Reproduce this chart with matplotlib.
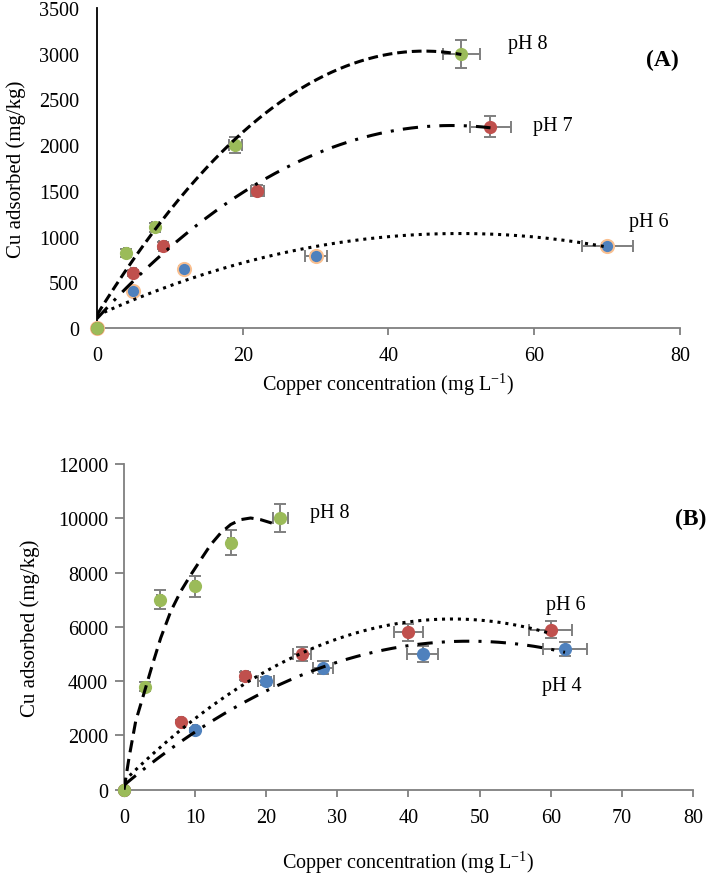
import matplotlib
matplotlib.use("Agg")
import matplotlib.pyplot as plt
import numpy as np

plt.rcParams["font.family"] = ["Liberation Serif", "DejaVu Serif"]
plt.rcParams["mathtext.fontset"] = "custom"
plt.rcParams["mathtext.rm"] = "Liberation Serif"

green = "#9BBB59"
red = "#C0504D"
blue = "#4F81BD"
orange = "#FAC090"
grey = "#7F7F7F"

# Panel A
a_ph8_x = [0, 4, 8, 19, 50]
a_ph8_y = [0, 820, 1100, 2000, 3000]
a_ph8_xerr = [0, 0.3, 0.5, 0.9, 2.5]
a_ph8_yerr = [0, 40, 50, 90, 155]

a_ph7_x = [0, 5, 9, 22, 54]
a_ph7_y = [0, 600, 900, 1500, 2200]
a_ph7_xerr = [0, 0.3, 0.5, 0.9, 2.8]
a_ph7_yerr = [0, 30, 40, 60, 115]

a_ph6_x = [0, 5, 12, 30, 70]
a_ph6_y = [0, 400, 650, 790, 900]
a_ph6_xerr = [0, 0.3, 0.4, 1.5, 3.5]
a_ph6_yerr = [0, 20, 30, 30, 30]

# Panel B
b_ph8_x = [0, 3, 5, 10, 15, 22]
b_ph8_y = [0, 3800, 7000, 7500, 9100, 10000]
b_ph8_xerr = [0, 0.3, 0.3, 0.3, 0.4, 1.05]
b_ph8_yerr = [0, 180, 340, 390, 460, 510]

# pH 8 trend line in (B)
b_ph8_trend_x = [0, 0.7, 1.64, 2.82, 4.0, 5.16, 6.57, 7.98, 9.4, 10.8,
                 12.2, 13.6, 15.0, 16.4, 17.8, 19.2, 20.7, 21.3]
b_ph8_trend_y = [0, 1170, 2520, 3560, 4610, 5590, 6570, 7310, 7920, 8480,
                 9030, 9460, 9770, 9950, 10010, 9950, 9830, 9760]

b_ph6_x = [0, 8, 17, 25, 40, 60]
b_ph6_y = [0, 2500, 4200, 5000, 5800, 5900]
b_ph6_xerr = [0, 0.3, 0.5, 1.27, 2.1, 3.05]
b_ph6_yerr = [0, 60, 150, 245, 310, 310]

b_ph4_x = [0, 10, 20, 28, 42, 62]
b_ph4_y = [0, 2200, 4000, 4500, 5000, 5200]
b_ph4_xerr = [0, 0.3, 1.1, 1.4, 2.2, 3.1]
b_ph4_yerr = [0, 60, 150, 245, 280, 260]

fig = plt.figure(figsize=(7.09, 8.78), dpi=100)
axA = fig.add_axes([0.1368, 0.6253, 0.8222, 0.3644])
axB = fig.add_axes([0.1749, 0.0994, 0.8025, 0.3710])


def points(ax, x, y, xerr, yerr, color, edge):
    ax.errorbar(x, y, xerr=xerr, yerr=yerr, fmt="none", ecolor=grey,
                elinewidth=1.4, capsize=4, capthick=1.4, zorder=2)
    ax.plot(x, y, "o", color=color, markersize=9.5, markeredgecolor=edge,
            markeredgewidth=1.4 if edge != color else 0, zorder=3, clip_on=False)


def trend(ax, x, y, style):
    coef = np.polyfit(x, y, 2)
    xs = np.linspace(0, max(x), 200)
    ax.plot(xs, np.polyval(coef, xs), color="black", zorder=4, **style)


dash = dict(linestyle=(0, (3.2, 1.6)), linewidth=2.2)
dashdot = dict(linestyle=(0, (5, 3, 1, 3)), linewidth=2.2)
dotted = dict(linestyle=(0, (1, 1.6)), linewidth=2.2)

points(axA, a_ph6_x, a_ph6_y, a_ph6_xerr, a_ph6_yerr, blue, orange)
points(axA, a_ph7_x, a_ph7_y, a_ph7_xerr, a_ph7_yerr, red, red)
points(axA, a_ph8_x, a_ph8_y, a_ph8_xerr, a_ph8_yerr, green, green)
trend(axA, a_ph6_x, a_ph6_y, dotted)
trend(axA, a_ph7_x, a_ph7_y, dashdot)
trend(axA, a_ph8_x, a_ph8_y, dash)

points(axB, b_ph4_x, b_ph4_y, b_ph4_xerr, b_ph4_yerr, blue, blue)
points(axB, b_ph6_x, b_ph6_y, b_ph6_xerr, b_ph6_yerr, red, red)
points(axB, b_ph8_x, b_ph8_y, b_ph8_xerr, b_ph8_yerr, green, green)
trend(axB, b_ph4_x, b_ph4_y, dashdot)
trend(axB, b_ph6_x, b_ph6_y, dotted)
axB.plot(b_ph8_trend_x, b_ph8_trend_y, color="black", zorder=4,
         linestyle=(0, (4, 2.2)), linewidth=2.2)

for ax in (axA, axB):
    ax.spines["top"].set_visible(False)
    ax.spines["right"].set_visible(False)
    ax.spines["bottom"].set_color(grey)
    ax.spines["bottom"].set_linewidth(1.3)
    ax.spines["left"].set_linewidth(1.3)
    ax.tick_params(axis="both", labelsize=14.5, direction="out", color=grey,
                   width=1.3, length=5)
    ax.tick_params(axis="x", pad=8)
    ax.set_xlim(0, 80)

axA.spines["left"].set_color("black")
axA.tick_params(axis="y", length=0, pad=13)
axA.set_ylim(0, 3500)
axA.set_xticks([0, 20, 40, 60, 80])
axA.set_yticks(np.arange(0, 3501, 500))
axA.set_ylabel("Cu adsorbed (mg/kg)", fontsize=15, labelpad=9)
axA.set_xlabel("Copper concentration (mg L$^{\\mathrm{-1}}$)", fontsize=14.5, labelpad=4)
axA.text(56.4, 3107, "pH 8", fontsize=14.5, va="center")
axA.text(59.8, 2210, "pH 7", fontsize=14.5, va="center")
axA.text(73, 1160, "pH 6", fontsize=14.5, va="center")
axA.text(75.3, 2943, "(A)", fontsize=17, fontweight="bold", va="center")

axB.spines["left"].set_color(grey)
axB.tick_params(axis="y", length=6.5, pad=5)
axB.set_ylim(0, 12000)
axB.set_xticks(np.arange(0, 81, 10))
axB.set_yticks(np.arange(0, 12001, 2000))
axB.set_ylabel("Cu adsorbed (mg/kg)", fontsize=15, labelpad=13)
axB.set_xlabel("Copper concentration (mg L$^{\\mathrm{-1}}$)", fontsize=14.5, labelpad=15)
axB.text(26.2, 10200, "pH 8", fontsize=14.5, va="center")
axB.text(59.3, 6840, "pH 6", fontsize=14.5, va="center")
axB.text(58.8, 3830, "pH 4", fontsize=14.5, va="center")
axB.text(77.5, 9980, "(B)", fontsize=17, fontweight="bold", va="center")

fig.savefig("out.png", dpi=100)
plt.close(fig)
